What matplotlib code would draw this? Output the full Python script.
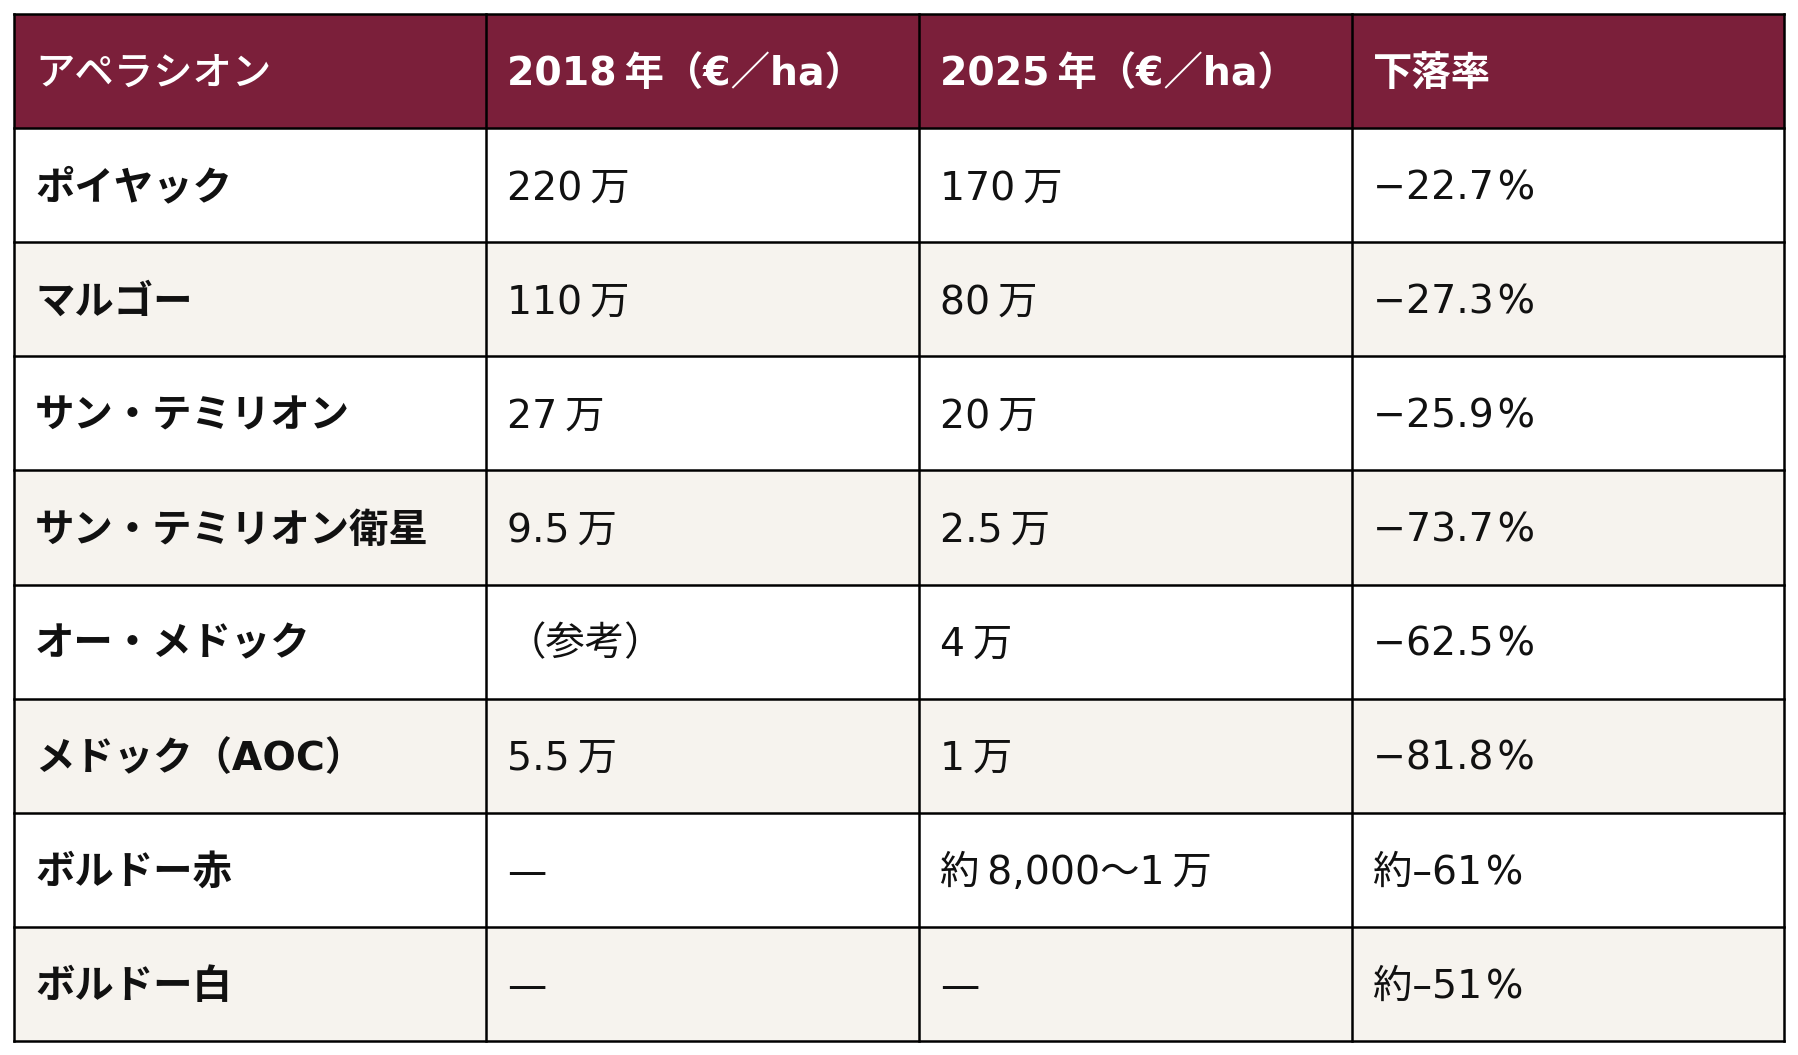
import matplotlib.pyplot as plt
from matplotlib.patches import Rectangle

plt.rcParams['font.family'] = ['DejaVu Sans', 'Noto Sans CJK JP']

TS = "\u2009"  # thin space between latin and CJK
HS = "\u200a"  # hair space before the percent sign

# table content
headers = ["アペラシオン", f"2018{TS}年（€／ha）", f"2025{TS}年（€／ha）", "下落率"]
appellations = ["ポイヤック", "マルゴー", "サン・テミリオン", "サン・テミリオン衛星",
                "オー・メドック", "メドック（AOC）", "ボルドー赤", "ボルドー白"]
price_2018 = [f"220{TS}万", f"110{TS}万", f"27{TS}万", f"9.5{TS}万", "（参考）",
              f"5.5{TS}万", "—", "—"]
price_2025 = [f"170{TS}万", f"80{TS}万", f"20{TS}万", f"2.5{TS}万", f"4{TS}万",
              f"1{TS}万", f"約{TS}8,000〜1{TS}万", "—"]
decline = [f"−22.7{HS}%", f"−27.3{HS}%", f"−25.9{HS}%", f"−73.7{HS}%",
           f"−62.5{HS}%", f"−81.8{HS}%", f"約–61{HS}%", f"約–51{HS}%"]

# layout (pixel coordinates)
W, H = 1798, 1055
col_edges = [14, 486, 919, 1352, 1784]
top, bottom = 14, 1041
header_color = "#7B1F3A"
stripe_color = "#F6F3EE"
line_w = 0.9
fs = 14.2
pad = 21
text_shift = 3

fig = plt.figure(figsize=(W / 200, H / 200), dpi=200)
ax = fig.add_axes([0, 0, 1, 1])
ax.set_xlim(0, W)
ax.set_ylim(H, 0)
ax.axis("off")

columns = [appellations, price_2018, price_2025, decline]
n_rows = len(appellations) + 1
row_h = (bottom - top) / n_rows

for r in range(n_rows):
    y0 = top + r * row_h
    if r == 0:
        face = header_color
    elif r % 2 == 0:
        face = stripe_color
    else:
        face = "white"
    ax.add_patch(Rectangle((col_edges[0], y0), col_edges[-1] - col_edges[0], row_h,
                           facecolor=face, edgecolor="none", zorder=1))
    for c in range(len(headers)):
        x0 = col_edges[c]
        if r == 0:
            txt = headers[c]
            color = "white"
            weight = "medium" if c == 0 else "bold"
        else:
            txt = columns[c][r - 1]
            color = "#111111"
            weight = "bold" if c == 0 else "normal"
        ax.text(x0 + pad, y0 + row_h / 2 + text_shift, txt, fontsize=fs, color=color,
                fontweight=weight, ha="left", va="center", zorder=3)

# grid lines
for r in range(n_rows + 1):
    y = top + r * row_h
    ax.plot([col_edges[0], col_edges[-1]], [y, y], color="black", lw=line_w,
            solid_capstyle="projecting", zorder=2)
for x in col_edges:
    ax.plot([x, x], [top, bottom], color="black", lw=line_w,
            solid_capstyle="projecting", zorder=2)

fig.savefig("out.png", dpi=200, facecolor="white")
